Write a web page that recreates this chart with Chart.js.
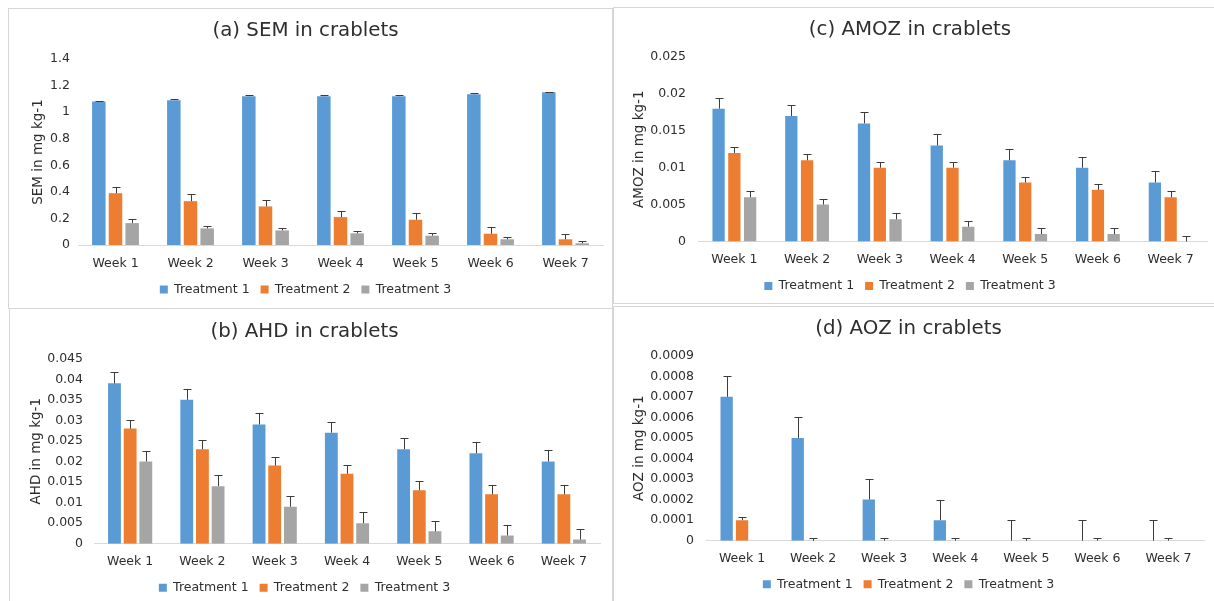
<!DOCTYPE html>
<html><head><meta charset="utf-8">
<script src="https://cdn.jsdelivr.net/npm/chart.js@4.4.0/dist/chart.umd.min.js"></script>
<style>
html,body{margin:0;padding:0;background:#fff;width:1214px;height:601px;overflow:hidden;position:relative}
.box{position:absolute;box-sizing:border-box;border:1px solid #d6d6d6;background:#fff}
canvas{position:absolute}
</style></head><body>
<div class="box" style="left:8px;top:8px;width:605px;height:301px"></div>
<div class="box" style="left:613px;top:7px;width:610px;height:297px"></div>
<div class="box" style="left:9px;top:308px;width:604px;height:300px"></div>
<div class="box" style="left:613px;top:306px;width:610px;height:300px"></div>
<canvas id="ca" width="604" height="300" style="left:8px;top:8px"></canvas>
<canvas id="cc" width="601" height="297" style="left:613px;top:7px"></canvas>
<canvas id="cb" width="603" height="292" style="left:9px;top:309px"></canvas>
<canvas id="cd" width="601" height="295" style="left:613px;top:306px"></canvas>
<script>
const weeks = ['Week 1','Week 2','Week 3','Week 4','Week 5','Week 6','Week 7'];
const seriesNames = ['Treatment 1','Treatment 2','Treatment 3'];
const colors = ['#5B9BD5','#ED7D31','#A5A5A5'];

// (a) SEM
const semT1 = [1.08,1.09,1.12,1.12,1.12,1.135,1.15];
const semT2 = [0.39,0.33,0.29,0.21,0.19,0.085,0.043];
const semT3 = [0.165,0.125,0.11,0.088,0.07,0.043,0.013];
const semE1 = [0.006,0.01,0.01,0.01,0.01,0.01,0.005];
const semE2 = [0.046,0.053,0.045,0.047,0.052,0.054,0.04];
const semE3 = [0.028,0.02,0.021,0.02,0.02,0.015,0.017];
const semTicks = ['0','0.2','0.4','0.6','0.8','1','1.2','1.4'];

// (b) AHD
const ahdT1 = [0.039,0.035,0.029,0.027,0.023,0.022,0.020];
const ahdT2 = [0.028,0.023,0.019,0.017,0.013,0.012,0.012];
const ahdT3 = [0.020,0.014,0.009,0.005,0.003,0.002,0.001];
const ahdE1 = [0.0027,0.0027,0.0027,0.0027,0.0027,0.0027,0.0027];
const ahdE2 = [0.0022,0.0022,0.0022,0.0022,0.0022,0.0022,0.0022];
const ahdE3 = [0.0026,0.0026,0.0026,0.0026,0.0026,0.0026,0.0026];
const ahdTicks = ['0','0.005','0.01','0.015','0.02','0.025','0.03','0.035','0.04','0.045'];

// (c) AMOZ
const amozT1 = [0.018,0.017,0.016,0.013,0.011,0.010,0.008];
const amozT2 = [0.012,0.011,0.010,0.010,0.008,0.007,0.006];
const amozT3 = [0.006,0.005,0.003,0.002,0.001,0.001,0];
const amozE1 = [0.0015,0.0015,0.0015,0.0015,0.0015,0.0015,0.0015];
const amozE2 = [0.0008,0.0008,0.0008,0.0008,0.0008,0.0008,0.0008];
const amozE3 = [0.0008,0.0008,0.0008,0.0008,0.0008,0.0008,0.0008];
const amozTicks = ['0','0.005','0.01','0.015','0.02','0.025'];

// (d) AOZ
const aozT1 = [0.0007,0.0005,0.0002,0.0001,0,0,0];
const aozT2 = [0.0001,0,0,0,0,0,0];
const aozT3 = [0,0,0,0,0,0,0];
const aozE1 = [0.0001,0.0001,0.0001,0.0001,0.0001,0.0001,0.0001];
const aozE2 = [0.000014,0.000013,0.000013,0.000013,0.000013,0.000013,0.000013];
const aozE3 = [0,0,0,0,0,0,0];
const aozTicks = ['0','0.0001','0.0002','0.0003','0.0004','0.0005','0.0006','0.0007','0.0008','0.0009'];

const TXT = '#2e2e2e';
const FAM = "'DejaVu Sans', Verdana, sans-serif";

const errorBars = {
  id: 'errorBars',
  afterDatasetsDraw(chart) {
    const ctx = chart.ctx, ys = chart.scales.y;
    ctx.save();
    ctx.strokeStyle = '#3c3c3c';
    ctx.lineWidth = 1;
    chart.data.datasets.forEach((ds, di) => {
      if (!ds.errors) return;
      const meta = chart.getDatasetMeta(di);
      meta.data.forEach((bar, i) => {
        const e = ds.errors[i];
        if (!e) return;
        const v = ds.data[i];
        const x = Math.round(bar.x) + 0.5;
        const y0 = ys.getPixelForValue(v);
        const y1 = Math.round(ys.getPixelForValue(v + e)) + 0.5;
        ctx.beginPath();
        ctx.moveTo(x, y0); ctx.lineTo(x, y1);
        ctx.moveTo(x - 4, y1); ctx.lineTo(x + 4, y1);
        ctx.stroke();
      });
    });
    ctx.restore();
  }
};

function makePanel(id, p) {
  const legendPad = 11, legFont = 12.5;
  const padB = p.H - p.legendY - legendPad - legFont / 2;
  const legendTop = p.legendY - legendPad - legFont / 2;
  const tTop = p.titleY - 11.9;
  new Chart(document.getElementById(id), {
    type: 'bar',
    data: {
      labels: weeks,
      datasets: p.series.map((d, i) => ({
        label: seriesNames[i], data: d, errors: p.errors[i],
        backgroundColor: colors[i], borderWidth: 0,
        barPercentage: p.bp, categoryPercentage: p.cp
      }))
    },
    options: {
      responsive: false, animation: false, devicePixelRatio: 1,
      layout: { padding: { left: 0, top: 0, right: p.W - p.right, bottom: padB } },
      plugins: {
        title: { display: true, text: p.title, color: TXT,
          font: { family: FAM, size: 19.8, weight: 'normal' },
          padding: { top: tTop, bottom: p.top - tTop - 23.76 } },
        legend: { position: 'bottom',
          labels: { boxWidth: 8, boxHeight: 8, padding: legendPad, color: TXT,
            font: { family: FAM, size: legFont } } },
        tooltip: { enabled: false }
      },
      scales: {
        x: {
          grid: { display: false, drawTicks: false },
          border: { display: true, color: '#d9d9d9', width: 1 },
          ticks: { color: TXT, padding: p.tickY - p.bottom - 5.5, font: { family: FAM, size: 12.5 }, maxRotation: 0 },
          afterFit: s => { s.height = legendTop - p.bottom; }
        },
        y: {
          min: 0, max: p.max,
          grid: { display: false, drawTicks: false },
          border: { display: false },
          ticks: { stepSize: p.step, autoSkip: false, padding: p.ytpad, color: TXT,
            font: { family: FAM, size: 12.5 }, callback: (v, i) => p.ticks[i] },
          title: { display: true, text: p.ytitle, color: TXT,
            font: { family: FAM, size: 13.5 }, padding: { top: p.ytx - 8.1, bottom: 0 } },
          afterFit: s => { s.width = p.left; }
        }
      }
    },
    plugins: [errorBars]
  });
}

makePanel('ca', { W: 604, H: 300, left: 70, right: 595, top: 51, bottom: 236,
  titleY: 23, tickY: 253, legendY: 280.5, ytx: 30, ytpad: 8, bp: 0.81, cp: 0.667,
  max: 1.4, step: 0.2, ticks: semTicks, title: '(a) SEM in crablets', ytitle: 'SEM in mg kg-1',
  series: [semT1, semT2, semT3], errors: [semE1, semE2, semE3] });

makePanel('cc', { W: 601, H: 297, left: 85, right: 594, top: 50, bottom: 233.5,
  titleY: 23, tickY: 250, legendY: 278, ytx: 26, ytpad: 12, bp: 0.78, cp: 0.65,
  max: 0.025, step: 0.005, ticks: amozTicks, title: '(c) AMOZ in crablets', ytitle: 'AMOZ in mg kg-1',
  series: [amozT1, amozT2, amozT3], errors: [amozE1, amozE2, amozE3] });

makePanel('cb', { W: 603, H: 292, left: 85, right: 591, top: 49.7, bottom: 233.7,
  titleY: 22.7, tickY: 250, legendY: 277.7, ytx: 27, ytpad: 11, bp: 0.82, cp: 0.65,
  max: 0.045, step: 0.005, ticks: ahdTicks, title: '(b) AHD in crablets', ytitle: 'AHD in mg kg-1',
  series: [ahdT1, ahdT2, ahdT3], errors: [ahdE1, ahdE2, ahdE3] });

makePanel('cd', { W: 601, H: 295, left: 93.5, right: 591, top: 49.7, bottom: 233.7,
  titleY: 23, tickY: 249.7, legendY: 277.3, ytx: 26, ytpad: 12.5, bp: 0.8, cp: 0.65,
  max: 0.0009, step: 0.0001, ticks: aozTicks, title: '(d) AOZ in crablets', ytitle: 'AOZ in mg kg-1',
  series: [aozT1, aozT2, aozT3], errors: [aozE1, aozE2, aozE3] });
</script>
</body></html>
